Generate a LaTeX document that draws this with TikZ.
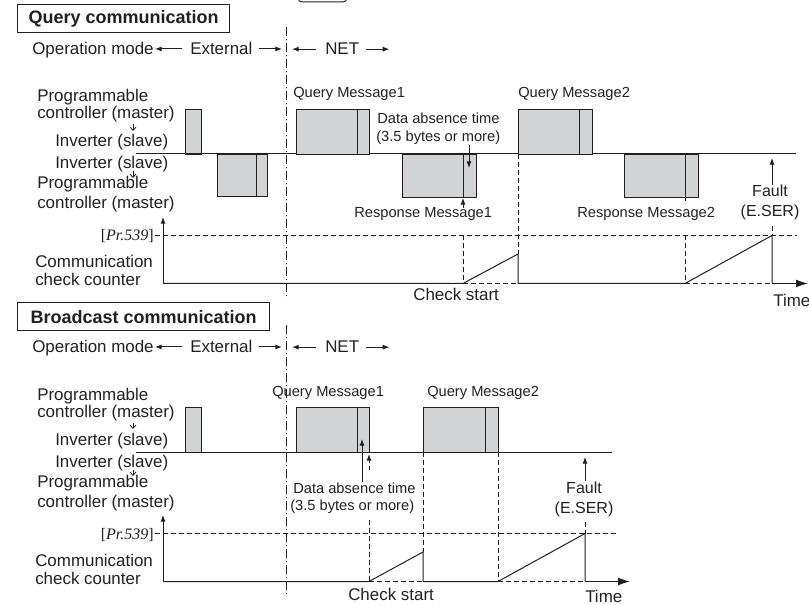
\documentclass[tikz,border=0pt]{standalone}
\usepackage{fontspec}
\setmainfont{Liberation Sans}
\newfontfamily\prfont{Liberation Serif}
\usepackage{xcolor}
\usetikzlibrary{positioning, calc, arrows.meta}
\definecolor{ink}{HTML}{231F20}
\definecolor{pktgray}{HTML}{D1D3D4}

\begin{document}
\begin{tikzpicture}[
    x=0.75pt, y=-0.75pt,
    >={Latex[length=5pt, width=3.8pt]},
    txt/.style={inner sep=0pt, text=ink, font=\fontsize{12.7}{14}\selectfont},
    msg/.style={inner sep=0pt, text=ink, font=\fontsize{11}{13}\selectfont},
    flt/.style={inner sep=0pt, text=ink, font=\fontsize{12}{14}\selectfont, anchor=base},
    ttl/.style={draw=ink, line width=1.1pt, inner sep=0pt, text=ink, font=\fontsize{13.5}{16}\selectfont\bfseries, anchor=north west, minimum height=21pt},
    pkt/.style={draw=ink, fill=pktgray, line width=0.7pt},
    wave/.style={draw=ink, line width=0.75pt},
    guideline/.style={draw=ink, line width=0.65pt, dash pattern=on 3.5pt off 2.5pt},
    modeline/.style={draw=ink, line width=0.7pt, dash pattern=on 7pt off 2pt on 1pt off 2pt},
    flow/.style={->, draw=ink, line width=0.7pt},
    timeax/.style={-{Latex[length=9pt, width=6pt]}, draw=ink, line width=0.9pt},
    hint/.style={-{Straight Barb[length=2.5pt, width=4.5pt]}, draw=ink, line width=0.6pt},
]
\useasboundingbox (0,0) rectangle (809,605);

% cut-off key frame at the top edge
\draw[wave, rounded corners=3pt] (298,-5) -- (298,2) -- (347,2) -- (347,-5);

% parts shared by both panels
\foreach \p/\sy/\lend/\pend/\tw/\ttxt in {q/0/796/797/159/Query communication, b/298/612/618/189/Broadcast communication} {
  \begin{scope}[shift={(0,\sy)}]
    \node[ttl, minimum width=\tw pt] at (17,4) (ttl\p) {\ttxt};

    \node[txt, anchor=base west] at (32,55)  (op\p)  {Operation mode};
    \node[txt, anchor=base west] at (190,55) (ext\p) {External};
    \node[txt, anchor=base west] at (325,55) (net\p) {NET};
    \coordinate (sw\p) at (286,50);
    \draw[flow] ($(ext\p.west)+(-8,0)$) -- ($(op\p.east |- ext\p.west)+(1,0)$);
    \draw[flow] ($(ext\p.east)+(6,0)$) -- ($(sw\p |- ext\p.east)+(-4,0)$);
    \draw[flow] ($(net\p.west)+(-9,0)$) -- ($(sw\p |- net\p.west)+(6,0)$);
    \draw[flow] ($(net\p.east)+(7,0)$) -- ($(net\p.east)+(30,0)$);
    \draw[modeline] (286,27) -- (286,299);

    \node[txt, anchor=base west] at (37,102) (pc1\p) {Programmable};
    \node[txt, anchor=base west] at (37,119) (pc2\p) {controller (master)};
    \node[txt, anchor=base west] at (55,147) (inv\p) {Inverter (slave)};
    \node[txt, anchor=base west] at (55,169) (inr\p) {Inverter (slave)};
    \node[txt, anchor=base west] at (37,189) (pr1\p) {Programmable};
    \node[txt, anchor=base west] at (37,209) (pr2\p) {controller (master)};
    \draw[hint] (133,124.5) -- (133,131);
    \draw[hint] (133,171.5) -- (133,178);

    \node[inner sep=0pt, text=ink, font=\fontsize{12}{14}\selectfont\prfont, anchor=base east] at (154,241) (pr\p) {[\textit{Pr.539}]};
    \node[txt, anchor=base west] at (35,268) (cc1\p) {Communication};
    \node[txt, anchor=base west] at (35,286) (cc2\p) {check counter};
    \draw[flow] (163,283.5) -- (163,217);
    \draw[guideline] (155,235.5) -- (\pend,235.5);

    \draw[pkt] (185,109) rectangle (201,154);
    \draw[wave] (136,154) -- (\lend,154);
  \end{scope}
}

% query communication
\foreach \xa/\ya/\xb/\yb/\xd in {217/154/267/196/256, 296/109/369/154/357, 402/154/476/197/463, 518/109/592/154/579, 624/154/698/197/685} {
  \draw[pkt] (\xa,\ya) rectangle (\xb,\yb);
  \draw[wave] (\xd,\ya) -- (\xd,\yb);
}
\draw[wave] (685,197) -- (685,201);

\node[msg, anchor=base west] at (293,98)  (qm1q) {Query Message1};
\node[msg, anchor=base west] at (518,98)  (qm2q) {Query Message2};
\node[msg, anchor=base west] at (354,218) (rm1q) {Response Message1};
\node[msg, anchor=base west] at (577,218) (rm2q) {Response Message2};
\node[msg, anchor=base west] at (377,124) (da1q) {Data absence time};
\node[msg, anchor=base west] at (376,142) (da2q) {(3.5 bytes or more)};
\node[flt] at (770,197) (flt1q) {Fault};
\node[flt] at (770,217) (flt2q) {(E.SER)};
\node[txt, anchor=base west] at (413,301) (chkq) {Check start};
\node[txt, anchor=base west] at (773,307) (timq) {Time};

\coordinate (gapq) at (469,168);
\coordinate (rspq) at (463,198);
\coordinate (fltq) at (772,158);
\draw[flow] (da2q.south -| gapq) -- (gapq);
\draw[flow] (rm1q.north -| rspq) -- (rspq);
\draw[flow] (flt1q.north -| fltq) -- (fltq);

\draw[guideline] (463,235.5) -- (463,283.5) (518,154) -- (518,254) (685,235.5) -- (685,283.5)
    (772,226) -- (772,235.5) (463,283.5) -- (518,283.5) (685,283.5) -- (772,283.5);
\draw[wave] (163,283.5) -- (463,283.5) -- (518,254) -- (518,283.5) -- (685,283.5) -- (772,235.5) -- (772,283.5);
\draw[timeax] (772,283.5) -- (808,283.5);

% broadcast communication
\begin{scope}[shift={(0,298)}]
  \foreach \xa/\xb/\xd in {296/369/357, 423/498/485} {
    \draw[pkt] (\xa,109) rectangle (\xb,154);
    \draw[wave] (\xd,109) -- (\xd,154);
  }
  \node[msg, anchor=base west] at (272,99)  (qm1b) {Query Message1};
  \node[msg, anchor=base west] at (427,99)  (qm2b) {Query Message2};
  \node[msg, anchor=base west] at (293,195) (da1b) {Data absence time};
  \node[msg, anchor=base west] at (290,212) (da2b) {(3.5 bytes or more)};
  \node[flt] at (584,195) (flt1b) {Fault};
  \node[flt] at (584,215) (flt2b) {(E.SER)};
  \node[txt, anchor=base west] at (348,302) (chkb) {Check start};
  \node[txt, anchor=base west] at (585,304) (timb) {Time};

  \coordinate (endb) at (362,141);
  \coordinate (gapb0) at (369,172);
  \coordinate (gapb) at (369,156);
  \coordinate (fltb) at (585,159);
  \draw[flow] (da1b.north -| endb) -- (endb);
  \draw[flow, dash pattern=on 3pt off 2pt] (gapb0) -- (gapb);
  \draw[flow] (flt1b.north -| fltb) -- (fltb);

  \draw[guideline] (369,222) -- (369,283.5) (423,154) -- (423,254) (498,154) -- (498,283.5)
      (585,224) -- (585,235.5) (369,283.5) -- (423,283.5) (498,283.5) -- (585,283.5);
  \draw[wave] (163,283.5) -- (369,283.5) -- (423,254) -- (423,283.5) -- (498,283.5) -- (585,235.5) -- (585,283.5);
  \draw[timeax] (585,283.5) -- (630,283.5);
\end{scope}

\end{tikzpicture}
\end{document}
